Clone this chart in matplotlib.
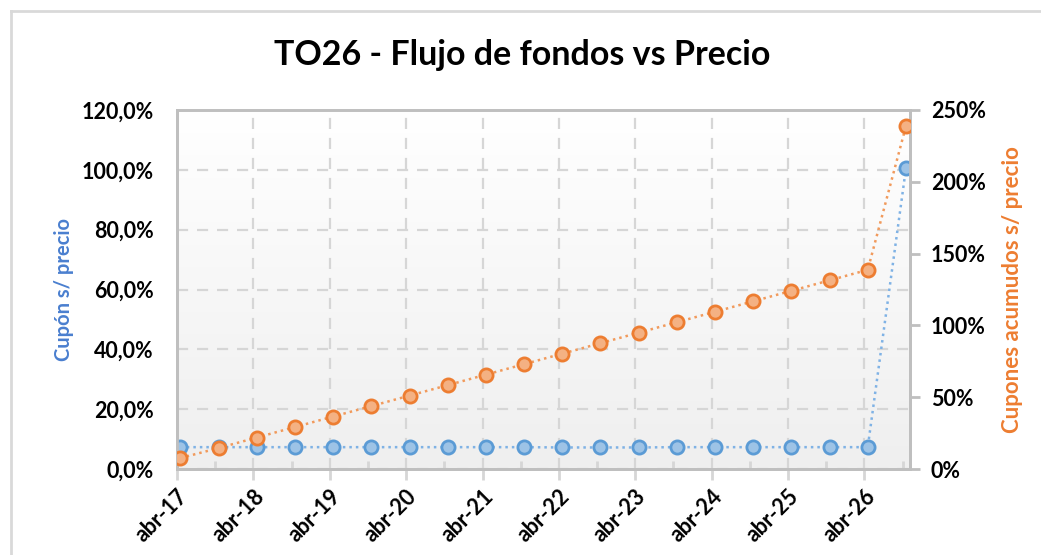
import matplotlib
matplotlib.use("Agg")
import matplotlib.pyplot as plt
import matplotlib.dates as mdates
from matplotlib.ticker import FuncFormatter, MultipleLocator
from matplotlib.lines import Line2D
import numpy as np
import pandas as pd

# ---- data ----
dates = ["2017-04-17", "2017-10-17", "2018-04-17", "2018-10-17", "2019-04-17",
         "2019-10-17", "2020-04-17", "2020-10-17", "2021-04-17", "2021-10-17",
         "2022-04-17", "2022-10-17", "2023-04-17", "2023-10-17", "2024-04-17",
         "2024-10-17", "2025-04-17", "2025-10-17", "2026-04-17", "2026-10-17"]
cupon = [7.3, 7.3, 7.3, 7.3, 7.3, 7.3, 7.3, 7.3, 7.3, 7.3,
         7.2, 7.2, 7.2, 7.3, 7.3, 7.3, 7.3, 7.3, 7.3, 100.7]
acumulado = [7.6, 14.6, 21.9, 29.2, 36.5, 43.8, 51.1, 58.4, 65.7, 73.0,
             80.3, 87.6, 94.9, 102.2, 109.5, 116.8, 124.1, 131.4, 138.7, 239.0]
title = "TO26 - Flujo de fondos vs Precio"
left_label = "Cupón s/ precio"
right_label = "Cupones acumudos s/ precio"
months_es = ["ene", "feb", "mar", "abr", "may", "jun", "jul", "ago", "sep", "oct", "nov", "dic"]

x = pd.to_datetime(dates)

FONT = "Lato"
plt.rcParams["font.family"] = [FONT, "DejaVu Sans"]
plt.rcParams["font.weight"] = "bold"

fig = plt.figure(figsize=(10.41, 5.55), dpi=100)
W, H = 1041, 555
# plot area in pixels: left 177, right 910, top 110, bottom 469
ax = fig.add_axes([177 / W, 1 - 469 / H, (910 - 177) / W, (469 - 110) / H])
ax2 = ax.twinx()

# gradient background: white at top, light grey at bottom
grad = np.linspace(0, 1, 256).reshape(-1, 1)
cmap = matplotlib.colors.LinearSegmentedColormap.from_list("g", ["#ffffff", "#efefef"])
ax.imshow(grad, aspect="auto", cmap=cmap, extent=[0, 1, 0, 1], transform=ax.transAxes,
          zorder=0, origin="upper")

ax.set_xlim(pd.Timestamp("2017-04-01"), pd.Timestamp("2026-11-05"))
ax.set_ylim(0, 120)
ax2.set_ylim(0, 250)

blue_line = "#5b9bd5"
blue_face = "#9dc3e6"
orange_line = "#ed7d31"
orange_face = "#f4b183"

ax.plot(x, cupon, linestyle=(0, (1, 1.6)), color="#7fb2e5", lw=1.8, zorder=3)
ax.plot(x, cupon, linestyle="none", marker="o", ms=9.5, mfc=blue_face, mec=blue_line, mew=2, zorder=4)
ax2.plot(x, acumulado, linestyle=(0, (1, 1.6)), color="#f19a5c", lw=1.8, zorder=3)
ax2.plot(x, acumulado, linestyle="none", marker="o", ms=9.5, mfc=orange_face, mec=orange_line, mew=2, zorder=4)

# ticks
ax.xaxis.set_major_locator(mdates.MonthLocator(bymonth=4, bymonthday=1))
ax.xaxis.set_minor_locator(mdates.MonthLocator(bymonth=10, bymonthday=1))
ax.xaxis.set_major_formatter(FuncFormatter(
    lambda v, p: "%s-%s" % (months_es[mdates.num2date(v).month - 1], mdates.num2date(v).strftime("%y"))))
ax.yaxis.set_major_locator(MultipleLocator(20))
ax.yaxis.set_major_formatter(FuncFormatter(lambda v, p: ("%.1f%%" % v).replace(".", ",")))
ax2.yaxis.set_major_locator(MultipleLocator(50))
ax2.yaxis.set_major_formatter(FuncFormatter(lambda v, p: "%d%%" % round(v)))

grid_c = "#d6d6d6"
ax.grid(True, which="major", axis="both", color=grid_c, linestyle=(0, (5, 4)), lw=1.6, zorder=1)
ax.set_axisbelow(True)

spine_c = "#bfbfbf"
for a in (ax, ax2):
    for s in a.spines.values():
        s.set_color(spine_c)
        s.set_linewidth(2)
ax.spines["top"].set_color("#c8c8c8")

LS = 15.5
ax.tick_params(axis="y", which="major", length=0, labelsize=LS, pad=17, labelcolor="black")
ax.tick_params(axis="x", which="major", direction="out", length=8, width=2, color=grid_c,
               labelsize=LS, pad=4)
ax.tick_params(axis="x", which="minor", direction="in", length=6, width=2, color=grid_c)
ax2.tick_params(axis="y", which="major", direction="out", length=7, width=2, color=spine_c,
                labelsize=LS, pad=8)
for lbl in ax.get_xticklabels():
    lbl.set_rotation(45)
    lbl.set_ha("right")
    lbl.set_rotation_mode("anchor")
    lbl.set_fontweight("bold")
for lbl in ax.get_yticklabels() + ax2.get_yticklabels():
    lbl.set_fontweight("bold")

ax.set_ylabel(left_label, color="#4a7fcf", fontsize=14.5, fontweight="bold", labelpad=5)
ax2.set_ylabel(right_label, color="#ed7d31", fontsize=16, fontweight="bold", labelpad=12,
               rotation=90)

fig.text(0.5 * (275 + 770) / W, 1 - 55 / H, title, ha="center", va="center",
         fontsize=24.5, fontweight="bold", color="black")

# chart area border (top and left only visible)
fig.add_artist(Line2D([11 / W, 1], [1 - 11 / H, 1 - 11 / H], color="#d9d9d9", lw=2,
                      transform=fig.transFigure))
fig.add_artist(Line2D([11 / W, 11 / W], [0, 1 - 11 / H], color="#d9d9d9", lw=2,
                      transform=fig.transFigure))

fig.savefig("out.png", dpi=100)
